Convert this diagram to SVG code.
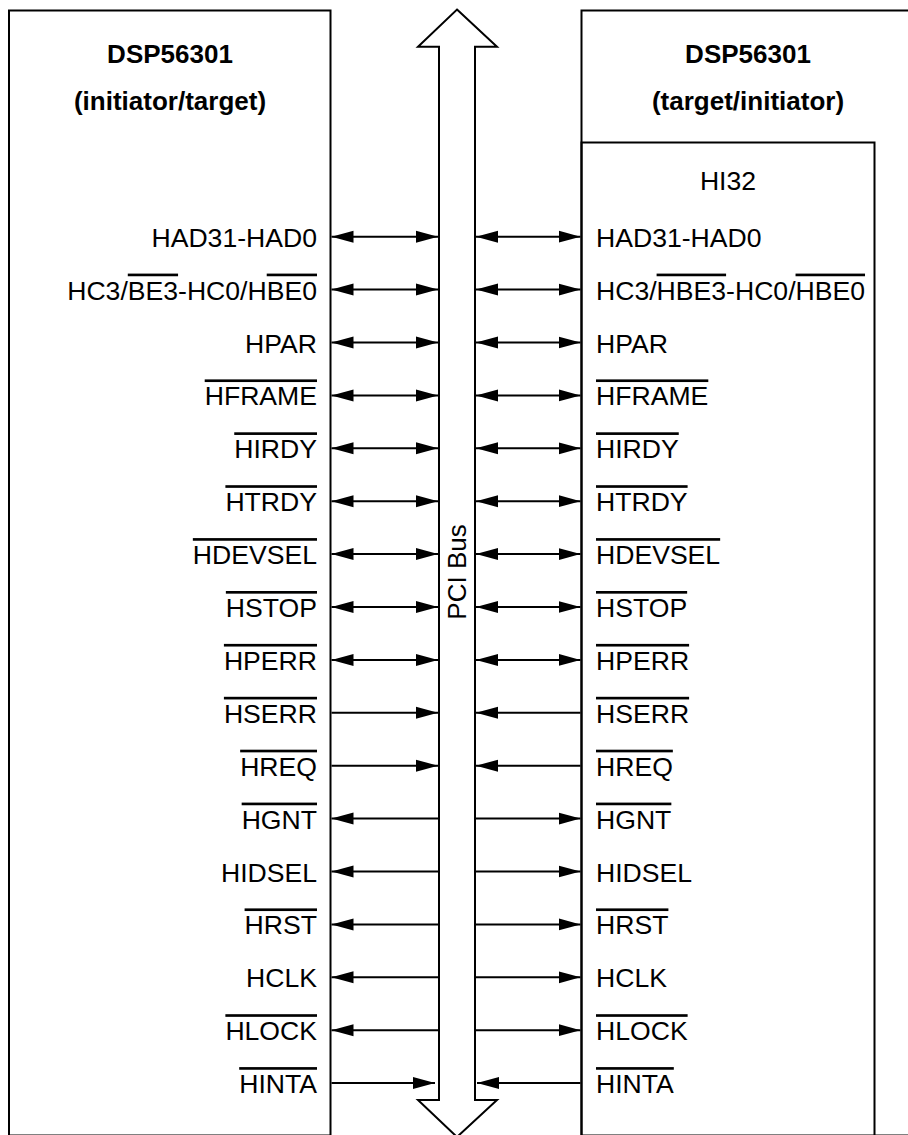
<svg xmlns="http://www.w3.org/2000/svg" width="908" height="1135" viewBox="0 0 908 1135">
<style>
.box{fill:none;stroke:#000;stroke-width:2}
.bus{fill:#fff;stroke:#000;stroke-width:2}
.t{font-family:"Liberation Sans",Arial,sans-serif;font-size:26.6px;fill:#000}
.b{font-weight:bold;font-size:26px}
.l{text-anchor:end}
.c{text-anchor:middle}
.o{text-decoration:overline}
.w{stroke:#000;stroke-width:2;fill:none}
.bi{marker-start:url(#ah);marker-end:url(#ah)}
.e{marker-end:url(#ah)}
</style>
<defs>
<marker id="ah" markerUnits="userSpaceOnUse" markerWidth="24" markerHeight="14" viewBox="0 0 24 14" refX="22" refY="7" orient="auto-start-reverse">
<path d="M0,1 L22,7 L0,13 z" fill="#000"/>
</marker>
</defs>
<g id="left-chip">
<rect class="box" x="9" y="10.5" width="321.5" height="1125"/>
<text class="t b c" x="170" y="63">DSP56301</text>
<text class="t b c" x="170" y="110">(initiator/target)</text>
</g>
<g id="right-chip">
<rect class="box" x="581.5" y="10.5" width="340" height="1125"/>
<text class="t b c" x="748" y="63">DSP56301</text>
<text class="t b c" x="748" y="110">(target/initiator)</text>
</g>
<g id="hi32">
<rect class="box" x="581.5" y="142.5" width="293" height="1000"/>
<text class="t c" x="728" y="190">HI32</text>
</g>
<g id="pci-bus">
<polygon class="bus" points="457,9.5 497,46.7 475,46.7 475,1100 497,1100 457,1137 418,1100 439,1100 439,46.7 418,46.7"/>
<text class="t c" style="font-size:26px" transform="translate(465.5,572) rotate(-90)">PCI Bus</text>
</g>
<g id="left-labels" class="t l">
<text x="317" y="246.7">HAD31-HAD0</text>
<text x="317" y="299.6">HC3/<tspan class="o">BE3</tspan>-HC0/H<tspan class="o">BE0</tspan></text>
<text x="317" y="352.5">HPAR</text>
<text x="317" y="405.4"><tspan class="o">HFRAME</tspan></text>
<text x="317" y="458.3"><tspan class="o">HIRDY</tspan></text>
<text x="317" y="511.2"><tspan class="o">HTRDY</tspan></text>
<text x="317" y="564.1"><tspan class="o">HDEVSEL</tspan></text>
<text x="317" y="617"><tspan class="o">HSTOP</tspan></text>
<text x="317" y="669.9"><tspan class="o">HPERR</tspan></text>
<text x="317" y="722.8"><tspan class="o">HSERR</tspan></text>
<text x="317" y="775.7"><tspan class="o">HREQ</tspan></text>
<text x="317" y="828.6"><tspan class="o">HGNT</tspan></text>
<text x="317" y="881.5">HIDSEL</text>
<text x="317" y="934.4"><tspan class="o">HRST</tspan></text>
<text x="317" y="987.3">HCLK</text>
<text x="317" y="1040.2"><tspan class="o">HLOCK</tspan></text>
<text x="317" y="1093.1"><tspan class="o">HINTA</tspan></text>
</g>
<g id="right-labels" class="t">
<text x="596" y="246.7">HAD31-HAD0</text>
<text x="596" y="299.6">HC3/<tspan class="o">HBE3</tspan>-HC0/<tspan class="o">HBE0</tspan></text>
<text x="596" y="352.5">HPAR</text>
<text x="596" y="405.4"><tspan class="o">HFRAME</tspan></text>
<text x="596" y="458.3"><tspan class="o">HIRDY</tspan></text>
<text x="596" y="511.2"><tspan class="o">HTRDY</tspan></text>
<text x="596" y="564.1"><tspan class="o">HDEVSEL</tspan></text>
<text x="596" y="617"><tspan class="o">HSTOP</tspan></text>
<text x="596" y="669.9"><tspan class="o">HPERR</tspan></text>
<text x="596" y="722.8"><tspan class="o">HSERR</tspan></text>
<text x="596" y="775.7"><tspan class="o">HREQ</tspan></text>
<text x="596" y="828.6"><tspan class="o">HGNT</tspan></text>
<text x="596" y="881.5">HIDSEL</text>
<text x="596" y="934.4"><tspan class="o">HRST</tspan></text>
<text x="596" y="987.3">HCLK</text>
<text x="596" y="1040.2"><tspan class="o">HLOCK</tspan></text>
<text x="596" y="1093.1"><tspan class="o">HINTA</tspan></text>
</g>
<g id="connectors" class="w">
<path class="bi" d="M331.5,236.7H438"/>
<path class="bi" d="M331.5,289.6H438"/>
<path class="bi" d="M331.5,342.5H438"/>
<path class="bi" d="M331.5,395.4H438"/>
<path class="bi" d="M331.5,448.3H438"/>
<path class="bi" d="M331.5,501.2H438"/>
<path class="bi" d="M331.5,554.1H438"/>
<path class="bi" d="M331.5,607H438"/>
<path class="bi" d="M331.5,659.9H438"/>
<path class="e" d="M331.5,712.8H438"/>
<path class="e" d="M331.5,765.7H438"/>
<path class="e" d="M438,818.6H331.5"/>
<path class="e" d="M438,871.5H331.5"/>
<path class="e" d="M438,924.4H331.5"/>
<path class="e" d="M438,977.3H331.5"/>
<path class="e" d="M438,1030.2H331.5"/>
<path class="e" d="M331.5,1083.1H435"/>
<path class="bi" d="M476,236.7H580.5"/>
<path class="bi" d="M476,289.6H580.5"/>
<path class="bi" d="M476,342.5H580.5"/>
<path class="bi" d="M476,395.4H580.5"/>
<path class="bi" d="M476,448.3H580.5"/>
<path class="bi" d="M476,501.2H580.5"/>
<path class="bi" d="M476,554.1H580.5"/>
<path class="bi" d="M476,607H580.5"/>
<path class="bi" d="M476,659.9H580.5"/>
<path class="e" d="M580.5,712.8H476"/>
<path class="e" d="M580.5,765.7H476"/>
<path class="e" d="M476,818.6H580.5"/>
<path class="e" d="M476,871.5H580.5"/>
<path class="e" d="M476,924.4H580.5"/>
<path class="e" d="M476,977.3H580.5"/>
<path class="e" d="M476,1030.2H580.5"/>
<path class="e" d="M580.5,1083.1H477"/>
</g>
</svg>
